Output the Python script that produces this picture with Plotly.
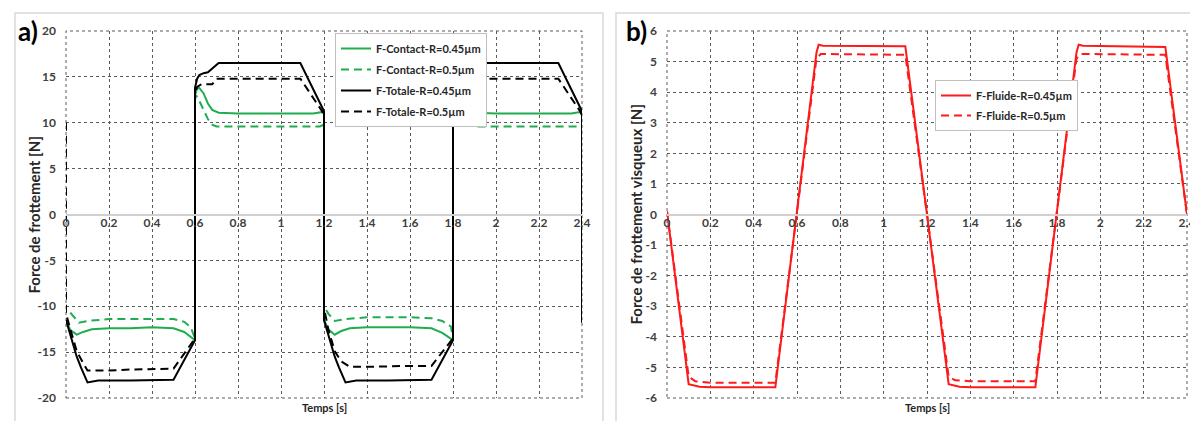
import plotly.graph_objects as go

W, H = 1198, 421

# ---------------- data: panel a ----------------
t_contact_045 = [0, 0.02, 0.05, 0.08, 0.12, 0.2, 0.3, 0.4, 0.5, 0.55, 0.6,
                 0.6, 0.61, 0.62, 0.64, 0.66, 0.68, 0.71, 0.8, 1.0, 1.15, 1.2,
                 1.2, 1.22, 1.25, 1.28, 1.32, 1.4, 1.5, 1.6, 1.7, 1.75, 1.8,
                 1.8, 1.81, 1.82, 1.84, 1.86, 1.88, 1.91, 2.0, 2.2, 2.35, 2.4]
v_contact_045 = [-11.5, -12.6, -13.1, -12.8, -12.5, -12.4, -12.4, -12.3, -12.4, -12.8, -13.7,
                 13.0, 13.7, 13.8, 13.2, 12.1, 11.4, 11.1, 11.0, 11.0, 11.0, 11.2,
                 -11.5, -12.5, -13.1, -12.7, -12.4, -12.3, -12.3, -12.3, -12.4, -12.9, -13.7,
                 13.0, 13.7, 13.8, 13.2, 12.1, 11.4, 11.1, 11.0, 11.0, 11.0, 11.2]

t_contact_05 = [0.02, 0.04, 0.06, 0.1, 0.2, 0.3, 0.4, 0.5, 0.55, 0.58, 0.6,
                0.6, 0.605, 0.62, 0.64, 0.66, 0.68, 0.7, 0.8, 1.0, 1.18, 1.2,
                1.2, 1.22, 1.25, 1.3, 1.4, 1.5, 1.6, 1.7, 1.75, 1.79, 1.8,
                1.8, 1.805, 1.82, 1.84, 1.86, 1.88, 1.9, 2.0, 2.2, 2.38, 2.4]
v_contact_05 = [-10.7, -11.3, -11.8, -11.6, -11.4, -11.4, -11.4, -11.4, -11.7, -12.3, -13.5,
                12.5, 13.0, 12.4, 11.4, 10.4, 9.8, 9.6, 9.6, 9.6, 9.6, 9.8,
                -10.0, -10.8, -11.6, -11.4, -11.2, -11.2, -11.2, -11.3, -11.6, -12.2, -13.5,
                12.5, 13.0, 12.4, 11.4, 10.4, 9.8, 9.6, 9.6, 9.6, 9.6, 9.8]

t_total_045 = [0, 0.03, 0.05, 0.07, 0.1, 0.15, 0.3, 0.5, 0.6,
               0.6, 0.61, 0.62, 0.64, 0.66, 0.68, 0.71, 0.8, 1.0, 1.09, 1.195, 1.2,
               1.2, 1.23, 1.25, 1.27, 1.3, 1.35, 1.5, 1.7, 1.8,
               1.8, 1.81, 1.82, 1.84, 1.86, 1.88, 1.91, 2.0, 2.2, 2.29, 2.395, 2.4, 2.4]
v_total_045 = [-11.5, -14.0, -15.5, -16.7, -18.3, -18.1, -18.1, -18.0, -13.7,
               13.8, 14.8, 15.2, 15.4, 15.5, 15.9, 16.5, 16.5, 16.5, 16.5, 11.5, 11.2,
               -11.5, -14.0, -15.5, -16.7, -18.3, -18.1, -18.1, -18.0, -13.7,
               13.8, 14.8, 15.2, 15.4, 15.5, 15.9, 16.5, 16.5, 16.5, 16.5, 11.5, 11.2, -11.8]

t_total_05 = [0, 0, 0.02, 0.05, 0.08, 0.1, 0.2, 0.3, 0.5, 0.6,
              0.6, 0.61, 0.63, 0.68, 0.7, 0.8, 1.09, 1.19, 1.2,
              1.2, 1.22, 1.25, 1.28, 1.32, 1.4, 1.6, 1.7, 1.8,
              1.8, 1.81, 1.83, 1.88, 1.9, 2.0, 2.29, 2.39, 2.4]
v_total_05 = [10.0, -10.8, -12.5, -14.9, -16.2, -17.0, -17.0, -16.9, -16.8, -13.5,
              13.3, 13.9, 14.2, 14.2, 14.8, 14.8, 14.8, 11.3, 10.8,
              -10.2, -12.5, -14.9, -16.0, -16.6, -16.6, -16.5, -16.5, -13.5,
              13.3, 13.9, 14.2, 14.2, 14.8, 14.8, 14.8, 11.3, 10.8]

# ---------------- data: panel b ----------------
t_fluid_045 = [0, 0.1, 0.15, 0.2, 0.5, 0.6, 0.65, 0.69, 0.7, 0.72, 1.1, 1.2,
               1.3, 1.35, 1.4, 1.7, 1.8, 1.85, 1.89, 1.9, 1.92, 2.3, 2.4]
v_fluid_045 = [0.1, -5.55, -5.63, -5.65, -5.65, 0.0, 3.0, 5.3, 5.55, 5.52, 5.5, 0.0,
               -5.55, -5.63, -5.65, -5.65, 0.0, 3.0, 5.3, 5.55, 5.52, 5.48, 0.0]

t_fluid_05 = [0, 0.1, 0.13, 0.2, 0.5, 0.6, 0.65, 0.69, 0.71, 1.1, 1.2,
              1.3, 1.33, 1.4, 1.7, 1.8, 1.85, 1.89, 1.91, 2.3, 2.4]
v_fluid_05 = [0.1, -5.3, -5.45, -5.5, -5.5, 0.0, 2.9, 5.1, 5.25, 5.22, 0.0,
              -5.3, -5.42, -5.45, -5.45, 0.0, 2.9, 5.1, 5.25, 5.22, 0.0]

# ---------------- ticks ----------------
x_tickvals = [0, 0.2, 0.4, 0.6, 0.8, 1.0, 1.2, 1.4, 1.6, 1.8, 2.0, 2.2, 2.4]
x_ticktext = ["0", "0.2", "0.4", "0.6", "0.8", "1", "1.2", "1.4", "1.6", "1.8", "2", "2.2", "2.4"]
ya_tickvals = [-20, -15, -10, -5, 0, 5, 10, 15, 20]
ya_ticktext = ["-20", "-15", "-10", "-5", "0", "5", "10", "15", "20"]
yb_tickvals = [-6, -5, -4, -3, -2, -1, 0, 1, 2, 3, 4, 5, 6]
yb_ticktext = ["-6", "-5", "-4", "-3", "-2", "-1", "0", "1", "2", "3", "4", "5", "6"]

names_a = ["F-Contact-R=0.45µm", "F-Contact-R=0.5µm", "F-Totale-R=0.45µm", "F-Totale-R=0.5µm"]
names_b = ["F-Fluide-R=0.45µm", "F-Fluide-R=0.5µm"]

GREEN = "#1fae4f"
RED = "#ff1a1a"
BLACK = "#000000"
DASH = "8px,5px"
FONT = "Lato"
GRIDC = "#5a5a5a"

fig = go.Figure()

series_a = [
    (t_contact_045, v_contact_045, names_a[0], GREEN, "solid"),
    (t_contact_05, v_contact_05, names_a[1], GREEN, DASH),
    (t_total_045, v_total_045, names_a[2], BLACK, "solid"),
    (t_total_05, v_total_05, names_a[3], BLACK, DASH),
]
for i, (t, v, n, c, d) in enumerate(series_a):
    fig.add_trace(go.Scatter(x=t, y=v, name=n, mode="lines", xaxis="x", yaxis="y",
                             line=dict(color=c, width=2, dash=d), legend="legend",
                             legendgroup="a%d" % i))

series_b = [
    (t_fluid_045, v_fluid_045, names_b[0], RED, "solid"),
    (t_fluid_05, v_fluid_05, names_b[1], RED, DASH),
]
for i, (t, v, n, c, d) in enumerate(series_b):
    fig.add_trace(go.Scatter(x=t, y=v, name=n, mode="lines", xaxis="x2", yaxis="y2",
                             line=dict(color=c, width=2, dash=d), legend="legend2",
                             legendgroup="b%d" % i))


def px(x):
    return x / W


def py(y):
    return 1 - y / H


yd = [py(390), py(23)]
ymid = (yd[0] + yd[1]) / 2
tickfont = dict(family=FONT, size=12, color="#404040", weight="bold")
grid = dict(showgrid=True, gridcolor=GRIDC, griddash="dot", gridwidth=1)

common_x = dict(range=[0, 2.4], tickmode="array", tickvals=x_tickvals, ticktext=x_ticktext,
                tickfont=tickfont, anchor="free", position=ymid, showline=True,
                linecolor="#d0d0d0", linewidth=1.5, zeroline=False, ticks="",
                ticklabelstandoff=-3, automargin=False, **grid)
common_y = dict(tickmode="array", tickfont=tickfont, zeroline=False, showline=False,
                ticks="", ticklabelstandoff=9, automargin=False, **grid)

fig.update_layout(
    width=W, height=H,
    margin=dict(l=0, r=0, t=0, b=0),
    paper_bgcolor="white", plot_bgcolor="white",
    font=dict(family=FONT, color="#404040"),
    xaxis=dict(domain=[px(58), px(574)], **common_x),
    yaxis=dict(domain=yd, range=[-20, 20], tickvals=ya_tickvals, ticktext=ya_ticktext,
               anchor="x", **common_y),
    xaxis2=dict(domain=[px(659), px(1179)], **common_x),
    yaxis2=dict(domain=yd, range=[-6, 6], tickvals=yb_tickvals, ticktext=yb_ticktext,
                anchor="x2", **common_y),
    legend=dict(x=px(327), y=py(25), xanchor="left", yanchor="top",
                bgcolor="white", bordercolor="#bfbfbf", borderwidth=1,
                font=dict(family=FONT, size=11, color="#262626", weight="bold"),
                traceorder="grouped", tracegroupgap=2, itemwidth=30),
    legend2=dict(x=px(927), y=py(72), xanchor="left", yanchor="top",
                 bgcolor="white", bordercolor="#bfbfbf", borderwidth=1,
                 font=dict(family=FONT, size=11, color="#262626", weight="bold"),
                 traceorder="grouped", tracegroupgap=1, itemwidth=30),
    showlegend=True,
)

ann_font = dict(family=FONT, size=15, color="#262626", weight="bold")
fig.add_annotation(text="Force de frottement [N]", textangle=-90, x=px(25), y=ymid,
                   xref="paper", yref="paper", xanchor="center", yanchor="middle",
                   showarrow=False, font=ann_font)
fig.add_annotation(text="Force de frottement visqueux [N]", textangle=-90, x=px(627), y=ymid,
                   xref="paper", yref="paper", xanchor="center", yanchor="middle",
                   showarrow=False, font=ann_font)
small_font = dict(family=FONT, size=11, color="#262626", weight="bold")
fig.add_annotation(text="Temps [s]", x=px(316), y=py(399), xref="paper", yref="paper",
                   xanchor="center", yanchor="middle", showarrow=False, font=small_font)
fig.add_annotation(text="Temps [s]", x=px(919), y=py(399), xref="paper", yref="paper",
                   xanchor="center", yanchor="middle", showarrow=False, font=small_font)
big_font = dict(family=FONT, size=26, color="#000000", weight="bold")
fig.add_annotation(text="a)", x=px(20), y=py(23), xref="paper", yref="paper",
                   xanchor="center", yanchor="middle", showarrow=False, font=big_font)
fig.add_annotation(text="b)", x=px(628), y=py(23), xref="paper", yref="paper",
                   xanchor="center", yanchor="middle", showarrow=False, font=big_font)

# dotted plot-area borders (edge gridlines)
for xr, yr in (("x domain", "y domain"), ("x2 domain", "y2 domain")):
    fig.add_shape(type="rect", xref=xr, yref=yr, x0=0, x1=1, y0=0, y1=1,
                  line=dict(color=GRIDC, width=1, dash="dot"), layer="below")

# panel frames
fig.add_shape(type="rect", xref="paper", yref="paper", x0=px(7), x1=px(595), y0=-0.2, y1=py(5),
              line=dict(color="#d9d9d9", width=1.5), layer="below")
fig.add_shape(type="rect", xref="paper", yref="paper", x0=px(608), x1=1.2, y0=-0.2, y1=py(5),
              line=dict(color="#d9d9d9", width=1.5), layer="below")

fig.write_html("out.html")
